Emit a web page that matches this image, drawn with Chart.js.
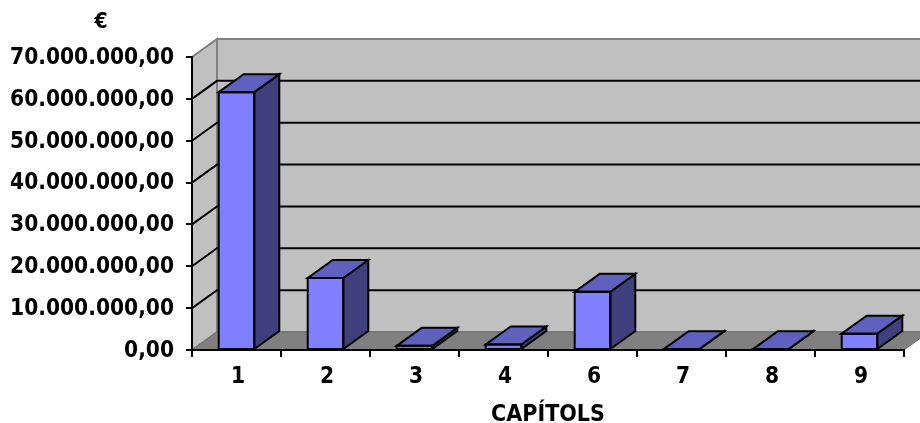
<!DOCTYPE html>
<html>
<head>
<meta charset="utf-8">
<title>Capítols</title>
<script src="https://cdn.jsdelivr.net/npm/chart.js@4"></script>
<style>
  html, body { margin: 0; padding: 0; background: #fff; overflow: hidden; }
  canvas { display: block; }
</style>
</head>
<body>
<canvas id="capitolsChart" width="920" height="423"></canvas>
<script>
const categories = ['1', '2', '3', '4', '6', '7', '8', '9'];
const values = [61600000, 17200000, 1000000, 1300000, 13900000, 200000, 150000, 3900000];
const yMax = 70000000;
const yStep = 10000000;
const unitLabel = '€';
const xTitle = 'CAPÍTOLS';

const FONT = '"DejaVu Sans Condensed", "DejaVu Sans", sans-serif';
const DEPTH_X = 25;
const DEPTH_Y = 18;

function poly(ctx, pts, fill, stroke, lw) {
    ctx.beginPath();
    pts.forEach(function (p, i) {
        if (i === 0) ctx.moveTo(p[0], p[1]);
        else ctx.lineTo(p[0], p[1]);
    });
    ctx.closePath();
    if (fill) {
        ctx.fillStyle = fill;
        ctx.fill();
    }
    if (stroke) {
        ctx.strokeStyle = stroke;
        ctx.lineWidth = lw;
        ctx.stroke();
    }
}

// back wall, side wall, floor and the gridlines on them
const wallsPlugin = {
    id: 'walls',
    beforeDraw: function (chart) {
        const ctx = chart.ctx;
        const a = chart.chartArea;
        const yScale = chart.scales.y;
        ctx.save();
        poly(ctx, [[a.left + DEPTH_X, a.top - DEPTH_Y], [a.right + DEPTH_X, a.top - DEPTH_Y],
            [a.right + DEPTH_X, a.bottom - DEPTH_Y], [a.left + DEPTH_X, a.bottom - DEPTH_Y]], '#c0c0c0', '#808080', 2);
        poly(ctx, [[a.left, a.top], [a.left + DEPTH_X, a.top - DEPTH_Y],
            [a.left + DEPTH_X, a.bottom - DEPTH_Y], [a.left, a.bottom]], '#c0c0c0', '#808080', 2);
        poly(ctx, [[a.left, a.bottom], [a.left + DEPTH_X, a.bottom - DEPTH_Y],
            [a.right + DEPTH_X, a.bottom - DEPTH_Y], [a.right, a.bottom]], '#808080', '#707070', 1);

        ctx.strokeStyle = '#000';
        ctx.lineWidth = 2;
        yScale.ticks.forEach(function (t) {
            if (t.value === 0 || t.value === yMax) return;
            const y = yScale.getPixelForValue(t.value);
            ctx.beginPath();
            ctx.moveTo(a.left, y);
            ctx.lineTo(a.left + DEPTH_X, y - DEPTH_Y);
            ctx.lineTo(a.right + DEPTH_X, y - DEPTH_Y);
            ctx.stroke();
        });
        ctx.restore();
    },
    afterDraw: function (chart) {
        const ctx = chart.ctx;
        ctx.save();
        ctx.fillStyle = '#000';
        ctx.font = 'bold 21px ' + FONT;
        ctx.textAlign = 'center';
        ctx.textBaseline = 'middle';
        ctx.fillText(unitLabel, 101, 23);
        ctx.restore();
    }
};

// outline of the front plus top and side faces of each bar, taken from the bar elements
const barDepthPlugin = {
    id: 'barDepth',
    afterDatasetsDraw: function (chart) {
        const ctx = chart.ctx;
        ctx.save();
        ctx.lineJoin = 'miter';
        chart.getDatasetMeta(0).data.forEach(function (bar) {
            const l = bar.x - bar.width / 2;
            const r = bar.x + bar.width / 2;
            poly(ctx, [[r, bar.y], [r + DEPTH_X, bar.y - DEPTH_Y],
                [r + DEPTH_X, bar.base - DEPTH_Y], [r, bar.base]], '#40407f', '#000', 2);
            poly(ctx, [[l, bar.y], [l + DEPTH_X, bar.y - DEPTH_Y],
                [r + DEPTH_X, bar.y - DEPTH_Y], [r, bar.y]], '#6060bf', '#000', 2);
            poly(ctx, [[l, bar.y], [r, bar.y], [r, bar.base], [l, bar.base]], null, '#000', 2);
        });
        ctx.restore();
    }
};

new Chart(document.getElementById('capitolsChart').getContext('2d'), {
    type: 'bar',
    data: {
        labels: categories,
        datasets: [{
            data: values,
            backgroundColor: '#8080ff',
            borderWidth: 0,
            categoryPercentage: 1,
            barPercentage: 0.4
        }]
    },
    options: {
        responsive: false,
        animation: false,
        layout: { padding: { top: 57, right: 16, bottom: 0, left: 0 } },
        plugins: {
            legend: { display: false },
            tooltip: { enabled: false }
        },
        scales: {
            x: {
                afterFit: function (scale) { scale.height = 73; },
                border: { color: '#000', width: 2 },
                grid: { drawOnChartArea: false, drawTicks: true, tickLength: 7, color: '#000', lineWidth: 2 },
                ticks: { color: '#000', padding: 7, maxRotation: 0, labelOffset: 1.5, font: { family: FONT, size: 22.5, weight: 'bold' } },
                title: {
                    display: true,
                    text: xTitle,
                    color: '#000',
                    padding: { top: 0, bottom: -4 },
                    font: { family: FONT, size: 23, weight: 'bold', lineHeight: 1 }
                }
            },
            y: {
                min: 0,
                max: yMax,
                afterFit: function (scale) { scale.width = 192; },
                border: { color: '#000', width: 2 },
                grid: { drawOnChartArea: false, drawTicks: true, tickLength: 6, color: '#000', lineWidth: 2 },
                ticks: {
                    stepSize: yStep,
                    color: '#000',
                    padding: 12,
                    labelOffset: 1,
                    font: { family: FONT, size: 22.5, weight: 'bold' },
                    callback: function (v) {
                        return v.toLocaleString('de-DE', { minimumFractionDigits: 2, maximumFractionDigits: 2 });
                    }
                }
            }
        }
    },
    plugins: [wallsPlugin, barDepthPlugin]
});
</script>
</body>
</html>
